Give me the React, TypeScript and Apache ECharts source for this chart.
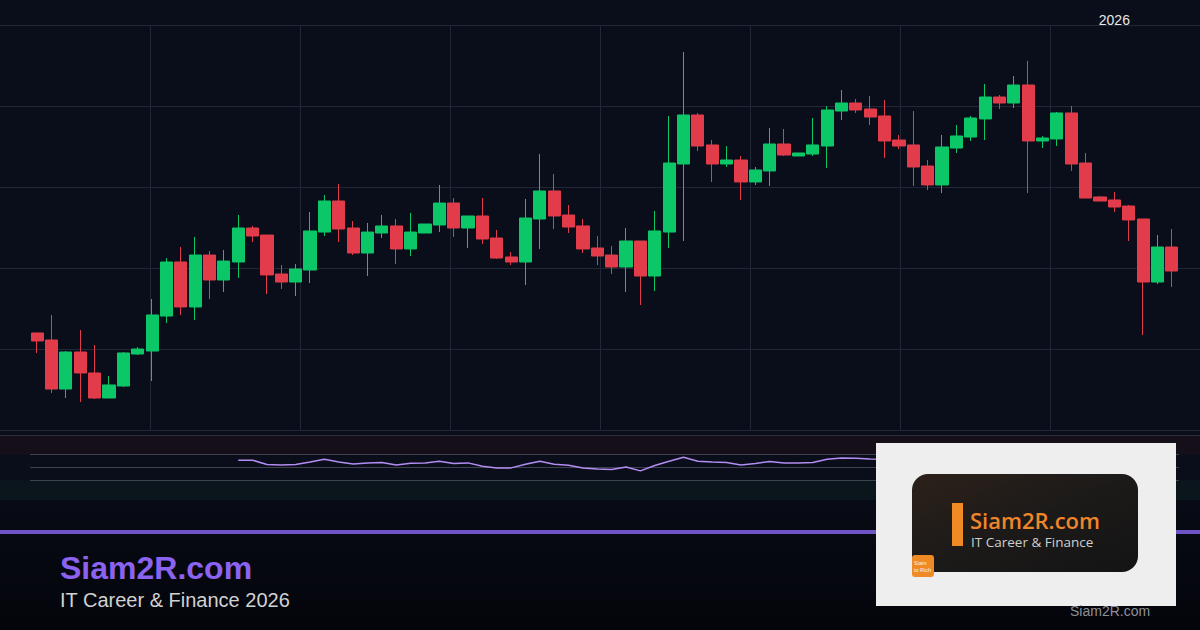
import React, { useEffect, useRef } from "react";
import * as echarts from "echarts";

// ---- data ----
const barCount = 80;
const categories: string[] = Array.from({ length: barCount }, (_, i) => `Bar ${i + 1}`);
const tickLabels: { [index: number]: string } = { 75: "2026" };

const opens = [111.98,111.11,105.06,109.63,107.04,103.95,105.43,109.38,109.75,114.07,
120.74,115.19,121.60,118.52,120.74,124.94,124.07,119.26,118.27,119.75,
124.44,128.27,124.94,121.85,124.32,125.19,122.35,124.32,125.31,128.02,
124.94,126.42,123.70,121.36,120.74,126.05,129.51,126.54,125.19,122.47,
121.60,120.12,123.33,119.01,124.44,132.84,138.89,135.19,132.84,133.33,
130.62,131.98,135.31,133.83,134.07,135.06,139.38,140.37,139.63,138.77,
135.80,135.19,132.59,130.25,134.81,136.17,138.40,141.11,140.37,142.59,
135.68,135.93,139.14,132.96,128.77,128.40,127.65,126.05,118.27,122.59];

const closes = [110.99,105.06,109.63,107.04,103.95,105.56,109.51,110.00,114.20,120.74,
115.19,121.60,118.52,120.86,124.94,123.95,119.14,118.27,119.88,124.57,
128.27,124.81,121.85,124.44,125.19,122.35,124.44,125.43,128.02,124.94,
126.42,123.58,121.23,120.74,126.17,129.51,126.42,125.06,122.35,121.48,
120.12,123.33,119.01,124.57,132.96,138.89,135.06,132.84,133.33,130.62,
132.10,135.31,133.95,134.20,135.19,139.51,140.37,139.51,138.64,135.68,
135.06,132.47,130.25,134.94,136.30,138.52,141.11,140.37,142.59,135.68,
136.05,139.14,132.84,128.64,128.27,127.53,125.93,118.27,122.59,119.63];

const lows = [109.51,104.57,103.95,103.46,103.83,103.95,105.31,109.26,106.05,113.21,
114.20,113.58,116.17,117.04,118.77,123.21,116.79,117.41,116.54,118.15,
123.95,123.21,121.60,119.01,123.70,120.49,121.48,124.32,124.44,123.83,
122.47,122.96,121.11,120.37,117.90,122.35,124.81,124.32,121.85,120.37,
119.26,117.04,115.43,117.16,122.47,123.33,134.44,130.62,132.47,128.40,
130.25,130.12,133.83,133.83,133.83,132.35,138.27,139.14,137.65,133.58,
134.69,130.12,129.63,129.26,134.20,135.68,135.80,139.63,139.75,129.26,
134.81,135.06,131.98,128.64,128.27,126.91,123.33,111.73,118.02,117.65];

const highs = [111.98,114.20,109.75,112.35,110.49,106.67,109.63,110.25,116.17,121.23,
122.59,123.83,122.10,122.22,126.54,125.19,124.07,120.37,120.49,126.91,
129.01,130.37,125.80,125.56,126.54,126.05,126.79,125.43,130.25,128.64,
126.42,128.64,124.69,121.98,128.52,134.07,131.60,127.78,126.05,123.95,
122.72,124.94,123.33,127.04,138.77,146.67,139.14,135.80,135.06,133.83,
132.47,137.28,137.16,134.20,138.52,140.00,141.98,140.86,141.23,140.74,
136.42,139.38,133.33,136.42,137.65,138.77,142.72,141.36,143.70,145.56,
136.30,139.26,140.00,134.20,128.89,129.38,127.78,126.05,124.07,124.81];

// RSI (visible part, starting at bar index 14)
const rsiStart = 14;
const rsiValues = [61.2,61.2,54.6,54.0,54.6,58.6,62.8,58.6,55.5,57.1,
57.7,54.0,56.6,57.1,59.7,56.2,57.1,52.0,49.4,49.4,
55.1,59.7,55.1,53.5,49.4,47.8,46.9,50.9,44.8,53.1,
59.7,65.8,59.7,58.6,57.7,54.0,56.2,59.2,57.1,57.1,
57.7,62.8,64.8,64.3,63.2,62.5];
const rsiLevels = [70, 50, 30];

const priceMin = 100;
const priceMax = 150;
const priceStep = 10;

const GREEN = "#0cc767";
const RED = "#e23c4b";
const SANS = "Liberation Sans, Arial, sans-serif";

export default function App() {
  const ref = useRef<HTMLDivElement>(null);

  useEffect(() => {
    if (!ref.current) return;
    const chart = echarts.init(ref.current, undefined, { renderer: "svg" });

    const candleData = opens.map((o, i) => [o, closes[i], lows[i], highs[i]]);
    const rsiData: (number | null)[] = categories.map((_, i) => {
      const k = i - rsiStart;
      return k >= 0 && k < rsiValues.length ? rsiValues[k] : null;
    });

    const option: any = {
      animation: false,
      backgroundColor: "#0a0e1b",
      grid: [
        { left: 30, right: 21, top: 25, bottom: 200 },
        { left: 150, right: 0, top: 25, bottom: 200 },
        { left: 30, right: 21, top: 435, height: 65 },
        { left: 0, right: 0, top: 25, bottom: 200 },
      ],
      xAxis: [
        {
          type: "category",
          gridIndex: 0,
          data: categories,
          position: "top",
          boundaryGap: true,
          axisLine: { show: false },
          axisTick: { show: false },
          splitLine: { show: false },
          axisLabel: {
            interval: 0,
            margin: -2,
            color: "#e8e8e8",
            fontSize: 14,
            fontFamily: SANS,
            formatter: (_v: string, i: number) => tickLabels[i] || "",
          },
        },
        {
          type: "value",
          gridIndex: 1,
          min: 1,
          max: 8,
          interval: 1,
          axisLine: { show: false },
          axisTick: { show: false },
          axisLabel: { show: false },
          splitLine: { show: true, lineStyle: { color: "#222737", width: 1 } },
        },
        { type: "category", gridIndex: 2, data: categories, show: false, boundaryGap: true },
        { type: "value", gridIndex: 3, min: 0, max: 1, show: false },
      ],
      yAxis: [
        { type: "value", gridIndex: 0, min: priceMin, max: priceMax, interval: priceStep, show: false },
        { type: "value", gridIndex: 1, min: priceMin, max: priceMax, interval: priceStep, show: false },
        { type: "value", gridIndex: 2, min: 0, max: 100, show: false },
        {
          type: "value",
          gridIndex: 3,
          min: priceMin,
          max: priceMax,
          interval: priceStep,
          axisLine: { show: false },
          axisTick: { show: false },
          axisLabel: { show: false },
          splitLine: { show: true, lineStyle: { color: "#222737", width: 1 } },
        },
      ],
      series: [
        {
          type: "candlestick",
          xAxisIndex: 0,
          yAxisIndex: 0,
          data: candleData,
          barWidth: "88%",
          itemStyle: {
            color: GREEN,
            color0: RED,
            borderColor: GREEN,
            borderColor0: RED,
            borderWidth: 1,
          },
          z: 5,
        },
        {
          type: "line",
          xAxisIndex: 2,
          yAxisIndex: 2,
          data: rsiData,
          showSymbol: false,
          connectNulls: false,
          lineStyle: { color: "#b38ef2", width: 1.5 },
          z: 5,
          markLine: {
            silent: true,
            symbol: "none",
            label: { show: false },
            lineStyle: { color: "#3d414d", type: "solid", width: 1 },
            data: rsiLevels.map((v) => ({ yAxis: v })),
          },
        },
      ],
      graphic: [
        { type: "line", z: 1, shape: { x1: 0, y1: 435.5, x2: 1200, y2: 435.5 }, style: { stroke: "#2a2e3b", lineWidth: 1 } },
        { type: "rect", z: 0, shape: { x: 0, y: 436, width: 1200, height: 18.5 }, style: { fill: "#150f1a" } },
        { type: "rect", z: 0, shape: { x: 0, y: 480.5, width: 1200, height: 19.5 }, style: { fill: "#0a161c" } },
        {
          type: "rect",
          z: 0,
          shape: { x: 0, y: 500, width: 1200, height: 130 },
          style: {
            fill: new echarts.graphic.LinearGradient(0, 0, 0, 1, [
              { offset: 0, color: "#080b15" },
              { offset: 1, color: "#04050b" },
            ]),
          },
        },
        { type: "rect", z: 2, shape: { x: 0, y: 530, width: 1200, height: 4 }, style: { fill: "#6f54c8" } },
        {
          type: "text",
          z: 10,
          x: 60,
          y: 568,
          style: { text: "Siam2R.com", fill: "#8b63f0", font: `bold 32px ${SANS}`, verticalAlign: "middle" },
        },
        {
          type: "text",
          z: 10,
          x: 60,
          y: 600,
          style: { text: "IT Career & Finance 2026", fill: "#d2d2d2", font: `20px ${SANS}`, verticalAlign: "middle" },
        },
        // logo card
        { type: "rect", z: 20, shape: { x: 876, y: 443, width: 300, height: 163 }, style: { fill: "#eeeeee" } },
        {
          type: "rect",
          z: 21,
          shape: { x: 912, y: 474, width: 226, height: 98, r: 16 },
          style: {
            fill: new echarts.graphic.LinearGradient(0, 0, 1, 1, [
              { offset: 0, color: "#2c2119" },
              { offset: 0.5, color: "#1c1a19" },
              { offset: 1, color: "#141414" },
            ]),
          },
        },
        { type: "rect", z: 22, shape: { x: 952, y: 503, width: 11, height: 43 }, style: { fill: "#f08a25" } },
        {
          type: "text",
          z: 22,
          x: 970,
          y: 519.5,
          style: { text: "Siam2R.com", fill: "#f0862a", font: `600 22px Open Sans, ${SANS}`, verticalAlign: "middle" },
        },
        {
          type: "text",
          z: 22,
          x: 971,
          y: 542,
          style: { text: "IT Career & Finance", fill: "#cfcfcf", font: `13.5px Open Sans, ${SANS}`, verticalAlign: "middle" },
        },
        { type: "rect", z: 23, shape: { x: 912, y: 555, width: 22, height: 22, r: 3 }, style: { fill: "#f08a25" } },
        {
          type: "text",
          z: 24,
          x: 914,
          y: 566,
          style: { text: "Siam\nto Rich", fill: "#fff2e4", font: `5.5px ${SANS}`, lineHeight: 7, verticalAlign: "middle" },
        },
        {
          type: "text",
          z: 22,
          x: 1070,
          y: 611,
          style: { text: "Siam2R.com", fill: "#8b909a", font: `14px ${SANS}`, verticalAlign: "middle" },
        },
      ],
    };

    chart.setOption(option);
    return () => chart.dispose();
  }, []);

  return (
    <div
      ref={ref}
      style={{ position: "fixed", left: 0, top: 0, width: 1200, height: 630 }}
    />
  );
}
